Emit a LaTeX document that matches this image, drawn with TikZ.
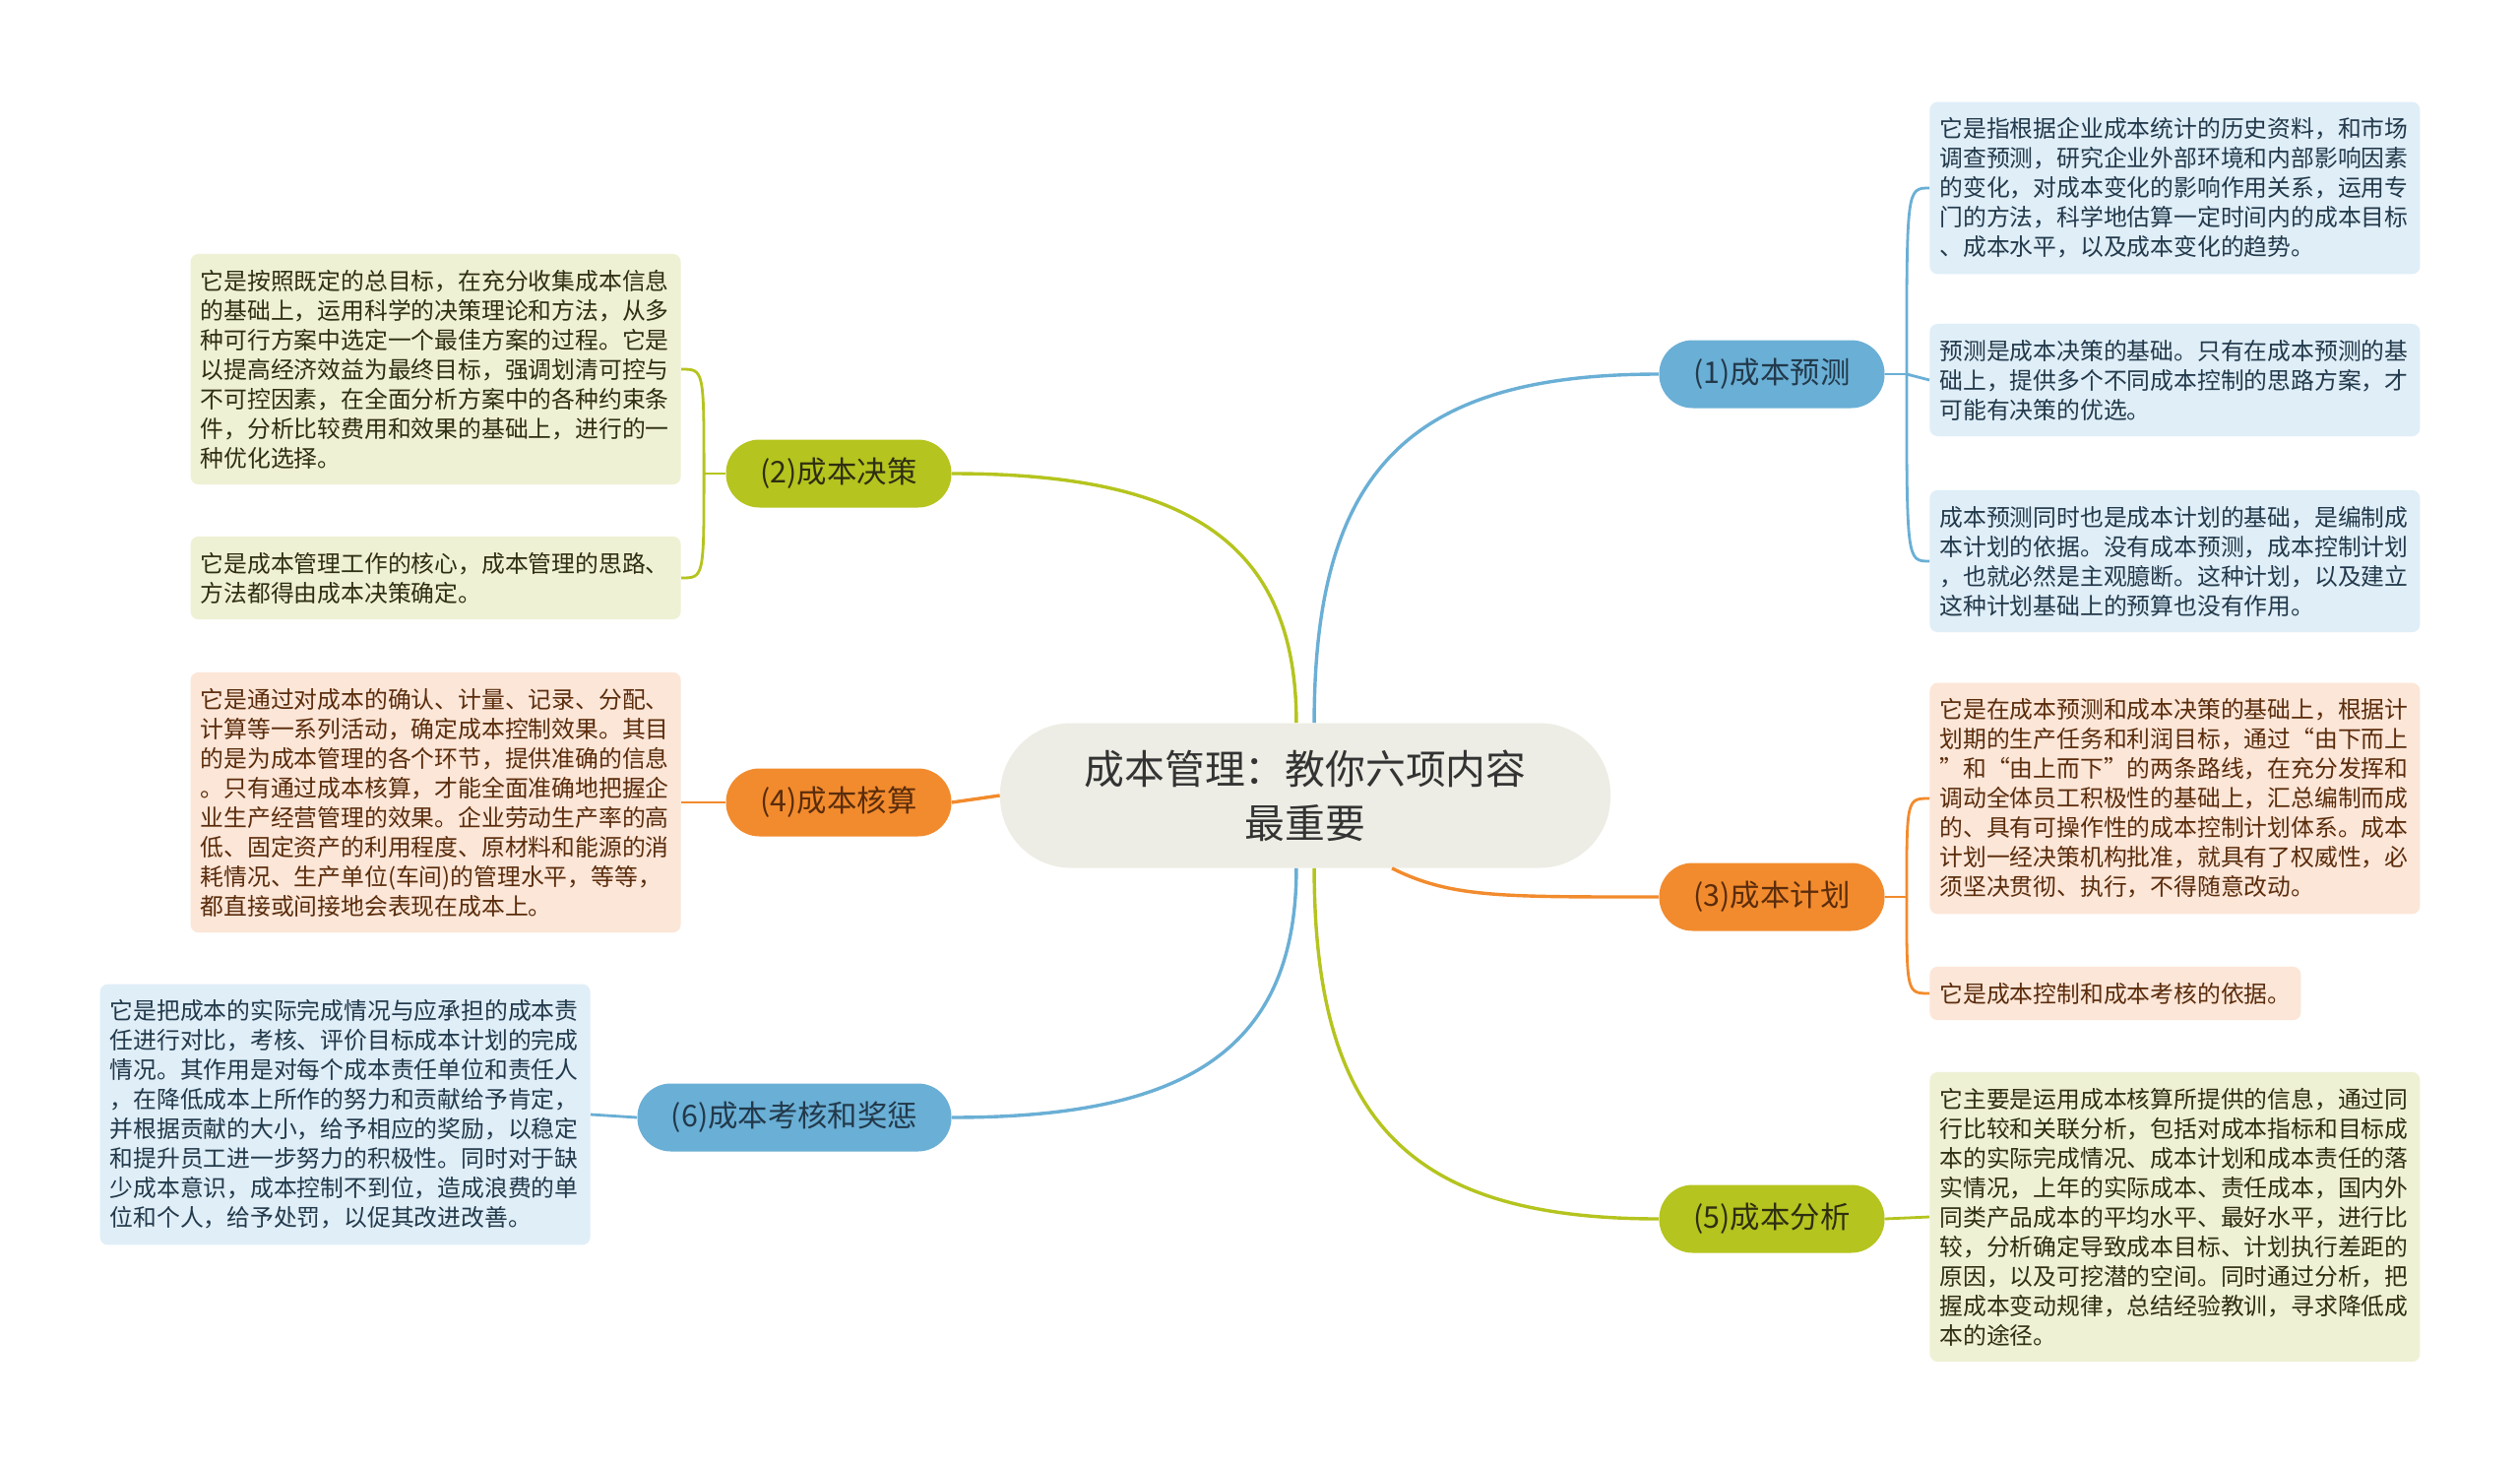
\documentclass[tikz,border=0pt]{standalone}
\usepackage{fontspec}
\setmainfont{Noto Sans CJK SC}
\definecolor{rootfill}{HTML}{EDEDE5}
\definecolor{bluebr}{HTML}{6AAFD5}
\definecolor{blueleaf}{HTML}{DFEEF7}
\definecolor{bluetext}{HTML}{22394B}
\definecolor{greenbr}{HTML}{B5C41E}
\definecolor{greenleaf}{HTML}{EFF1D4}
\definecolor{greentext}{HTML}{2E2E12}
\definecolor{orangebr}{HTML}{F28B2D}
\definecolor{orangeleaf}{HTML}{FCE6D7}
\definecolor{orangetext}{HTML}{5A2C0C}
\tikzset{%
    my root/.style={%
        fill=rootfill,
        rounded corners=36pt,
        minimum width=310pt,
        minimum height=73.5pt,
        align=center,
        text=black!80,
        font=\fontsize{20.4}{27.5}\selectfont
    },%
    my branch/.style={%
        fill=#1br,
        text=#1text,
        rounded corners=17pt,
        minimum width=114.5pt,
        minimum height=34.5pt,
        inner sep=0pt,
        font=\fontsize{15.2}{18}\selectfont
    },%
    my leaf/.style={%
        fill=#1leaf,
        text=#1text,
        rounded corners=4pt,
        align=left,
        inner xsep=5pt,
        inner ysep=8pt,
        font=\fontsize{11.9}{15}\selectfont
    },%
    my wide leaf/.style={my leaf=#1, text width=239pt},
    my link/.style={draw=#1br, line width=1.7pt},
    my twig/.style={draw=#1br, line width=1.4pt}
}
\begin{document}
\begin{tikzpicture}[x=0.5pt, y=-0.5pt]
\path[fill=white, use as bounding box] (0,0) rectangle (2560,1488);

\node[my root] (root) at (1326,808) {成本管理：教你六项内容\\最重要};

\node[my branch=blue] (pred) at (1800,380) {(1)成本预测};
\node[my branch=green] (dec) at (852,481) {(2)成本决策};
\node[my branch=orange] (plan) at (1800,911) {(3)成本计划};
\node[my branch=orange] (acc) at (852,815) {(4)成本核算};
\node[my branch=green] (ana) at (1800,1238) {(5)成本分析};
\node[my branch=blue, minimum width=159.5pt] (eval) at (807,1135) {(6)成本考核和奖惩};

\node[my wide leaf=blue, anchor=west] (pred-1) at (1960,191) {它是指根据企业成本统计的历史资料，和市场\\调查预测，研究企业外部环境和内部影响因素\\的变化，对成本变化的影响作用关系，运用专\\门的方法，科学地估算一定时间内的成本目标\\、成本水平，以及成本变化的趋势。};
\node[my wide leaf=blue, anchor=west] (pred-2) at (1960,386) {预测是成本决策的基础。只有在成本预测的基\\础上，提供多个不同成本控制的思路方案，才\\可能有决策的优选。};
\node[my wide leaf=blue, anchor=west] (pred-3) at (1960,570) {成本预测同时也是成本计划的基础，是编制成\\本计划的依据。没有成本预测，成本控制计划\\，也就必然是主观臆断。这种计划，以及建立\\这种计划基础上的预算也没有作用。};

\node[my wide leaf=orange, anchor=west] (plan-1) at (1960,811) {它是在成本预测和成本决策的基础上，根据计\\划期的生产任务和利润目标，通过“由下而上\\”和“由上而下”的两条路线，在充分发挥和\\调动全体员工积极性的基础上，汇总编制而成\\的、具有可操作性的成本控制计划体系。成本\\计划一经决策机构批准，就具有了权威性，必\\须坚决贯彻、执行，不得随意改动。};
\node[my leaf=orange, anchor=west] (plan-2) at (1960,1009) {它是成本控制和成本考核的依据。};

\node[my wide leaf=green, anchor=west] (ana-1) at (1960,1236) {它主要是运用成本核算所提供的信息，通过同\\行比较和关联分析，包括对成本指标和目标成\\本的实际完成情况、成本计划和成本责任的落\\实情况，上年的实际成本、责任成本，国内外\\同类产品成本的平均水平、最好水平，进行比\\较，分析确定导致成本目标、计划执行差距的\\原因，以及可挖潜的空间。同时通过分析，把\\握成本变动规律，总结经验教训，寻求降低成\\本的途径。};

\node[my wide leaf=green, anchor=east] (dec-1) at (692,375) {它是按照既定的总目标，在充分收集成本信息\\的基础上，运用科学的决策理论和方法，从多\\种可行方案中选定一个最佳方案的过程。它是\\以提高经济效益为最终目标，强调划清可控与\\不可控因素，在全面分析方案中的各种约束条\\件，分析比较费用和效果的基础上，进行的一\\种优化选择。};
\node[my wide leaf=green, anchor=east] (dec-2) at (692,587) {它是成本管理工作的核心，成本管理的思路、\\方法都得由成本决策确定。};

\node[my wide leaf=orange, anchor=east] (acc-1) at (692,815) {它是通过对成本的确认、计量、记录、分配、\\计算等一系列活动，确定成本控制效果。其目\\的是为成本管理的各个环节，提供准确的信息\\。只有通过成本核算，才能全面准确地把握企\\业生产经营管理的效果。企业劳动生产率的高\\低、固定资产的利用程度、原材料和能源的消\\耗情况、生产单位(车间)的管理水平，等等，\\都直接或间接地会表现在成本上。};

\node[my wide leaf=blue, anchor=east] (eval-1) at (600,1132) {它是把成本的实际完成情况与应承担的成本责\\任进行对比，考核、评价目标成本计划的完成\\情况。其作用是对每个成本责任单位和责任人\\，在降低成本上所作的努力和贡献给予肯定，\\并根据贡献的大小，给予相应的奖励，以稳定\\和提升员工进一步努力的积极性。同时对于缺\\少成本意识，成本控制不到位，造成浪费的单\\位和个人，给予处罚，以促其改进改善。};

\draw[my link=blue] (root.83) .. controls +(0,-260) and +(-250,0) .. (pred.west);
\draw[my link=green] (root.97) .. controls +(0,-190) and +(230,0) .. (dec.east);
\draw[my link=orange] (root.-40) .. controls +(60,30) and +(-160,0) .. (plan.west);
\draw[my link=orange] (root.west) -- (acc.east);
\draw[my link=green] (root.-83) .. controls +(0,260) and +(-250,0) .. (ana.west);
\draw[my link=blue] (root.-97) .. controls +(0,190) and +(230,0) .. (eval.east);

\draw[my twig=blue] (pred.east) -- ++(22,0) coordinate (pred-b);
\draw[my twig=blue] (pred-b) .. controls (pred-b |- pred-1.west) .. (pred-1.west);
\draw[my twig=blue] (pred-b) -- (pred-2.west);
\draw[my twig=blue] (pred-b) .. controls (pred-b |- pred-3.west) .. (pred-3.west);

\draw[my twig=orange] (plan.east) -- ++(22,0) coordinate (plan-b);
\draw[my twig=orange] (plan-b) .. controls (plan-b |- plan-1.west) .. (plan-1.west);
\draw[my twig=orange] (plan-b) .. controls (plan-b |- plan-2.west) .. (plan-2.west);

\draw[my twig=green] (ana.east) -- (ana-1.west);

\draw[my twig=green] (dec.west) -- ++(-22,0) coordinate (dec-b);
\draw[my twig=green] (dec-b) .. controls (dec-b |- dec-1.east) .. (dec-1.east);
\draw[my twig=green] (dec-b) .. controls (dec-b |- dec-2.east) .. (dec-2.east);

\draw[my twig=orange] (acc.west) -- (acc-1.east);
\draw[my twig=blue] (eval.west) -- (eval-1.east);
\end{tikzpicture}
\end{document}
